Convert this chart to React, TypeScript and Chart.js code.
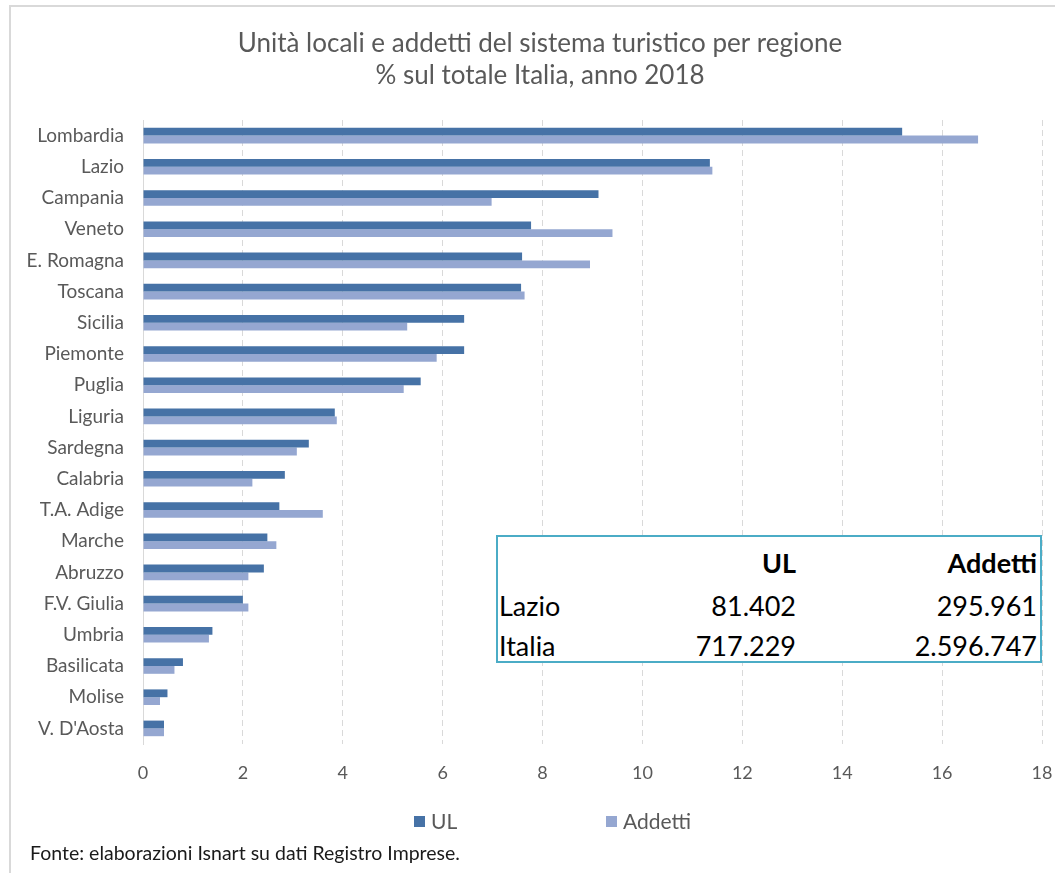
import React, { useEffect, useRef } from "react";
import { Chart, registerables } from "chart.js";

Chart.register(...registerables);

const categories = [
  "Lombardia", "Lazio", "Campania", "Veneto", "E. Romagna", "Toscana", "Sicilia",
  "Piemonte", "Puglia", "Liguria", "Sardegna", "Calabria", "T.A. Adige", "Marche",
  "Abruzzo", "F.V. Giulia", "Umbria", "Basilicata", "Molise", "V. D'Aosta",
];
const ulValues = [
  15.2, 11.35, 9.12, 7.77, 7.59, 7.57, 6.43, 6.43, 5.56, 3.84,
  3.32, 2.84, 2.73, 2.49, 2.42, 2.0, 1.39, 0.8, 0.49, 0.42,
];
const addettiValues = [
  16.72, 11.4, 6.98, 9.4, 8.95, 7.64, 5.29, 5.88, 5.22, 3.88,
  3.08, 2.19, 3.6, 2.67, 2.11, 2.11, 1.32, 0.63, 0.34, 0.42,
];
const seriesLabels = ["UL", "Addetti"];
const seriesColors = ["#4672A6", "#95A7D1"];
const xMin = 0;
const xMax = 18;
const xStep = 2;
const titleLines = [
  "Unità locali e addetti del sistema turistico per regione",
  "% sul totale Italia, anno 2018",
];
const tableHeader = ["", "UL", "Addetti"];
const tableRows = [
  ["Lazio", "81.402", "295.961"],
  ["Italia", "717.229", "2.596.747"],
];
const sourceNote = "Fonte: elaborazioni Isnart su dati Registro Imprese.";

const FONT = "Lato, 'Open Sans', sans-serif";
const GRAY = "#595959";

const titlePlugin = {
  id: "centeredTitle",
  afterDraw(chart: any) {
    const ctx = chart.ctx;
    ctx.save();
    ctx.fillStyle = GRAY;
    ctx.font = `26px ${FONT}`;
    ctx.textAlign = "center";
    ctx.textBaseline = "middle";
    titleLines.forEach((line, i) => {
      ctx.fillText(line, 540, 44 + i * 32);
    });
    ctx.restore();
  },
};

export default function App() {
  const canvasRef = useRef<HTMLCanvasElement | null>(null);

  useEffect(() => {
    const canvas = canvasRef.current;
    if (!canvas) return;
    const chart = new Chart(canvas, {
      type: "bar",
      data: {
        labels: categories,
        datasets: [
          {
            label: seriesLabels[0],
            data: ulValues,
            backgroundColor: seriesColors[0],
            categoryPercentage: 0.5,
            barPercentage: 1.0,
          },
          {
            label: seriesLabels[1],
            data: addettiValues,
            backgroundColor: seriesColors[1],
            categoryPercentage: 0.5,
            barPercentage: 1.0,
          },
        ],
      },
      options: {
        indexAxis: "y",
        animation: false,
        responsive: false,
        devicePixelRatio: 1,
        layout: { padding: { left: 0, right: 13, top: 120, bottom: 89 } },
        plugins: {
          legend: { display: false },
          tooltip: { enabled: false },
          title: { display: false },
        },
        scales: {
          x: {
            min: xMin,
            max: xMax,
            afterFit: (scale: any) => {
              scale.height = 40;
              scale.paddingLeft = 0;
              scale.paddingRight = 0;
            },
            ticks: {
              stepSize: xStep,
              color: GRAY,
              font: { family: FONT, size: 18 },
              padding: 18,
            },
            grid: {
              drawTicks: false,
              color: (ctx: any) => (ctx.index === 0 ? "rgba(0,0,0,0)" : "#d9d9d9"),
              lineWidth: 1,
            },
            border: { display: false, dash: [6, 4] },
          },
          y: {
            afterFit: (scale: any) => {
              scale.width = 143;
            },
            ticks: {
              color: GRAY,
              font: { family: FONT, size: 19 },
              padding: 19,
            },
            grid: { display: false, drawTicks: false },
            border: { display: true, color: "#d9d9d9", width: 1 },
          },
        },
      },
      plugins: [titlePlugin],
    });
    return () => chart.destroy();
  }, []);

  const legendItems = [
    { x: 414, label: seriesLabels[0], color: seriesColors[0] },
    { x: 606, label: seriesLabels[1], color: seriesColors[1] },
  ];

  const colRight = [null, 796, 1037];

  return (
    <div
      style={{
        position: "absolute",
        left: 0,
        top: 0,
        width: 1055,
        height: 873,
        overflow: "hidden",
        background: "#fff",
        fontFamily: FONT,
      }}
    >
      <div
        style={{
          position: "absolute",
          left: 9,
          top: 5,
          width: 1200,
          height: 1000,
          border: "2px solid #d9d9d9",
          boxSizing: "border-box",
        }}
      />
      <canvas
        ref={canvasRef}
        width={1055}
        height={873}
        style={{ position: "absolute", left: 0, top: 0, width: 1055, height: 873 }}
      />
      {/* inset table */}
      <div
        style={{
          position: "absolute",
          left: 496,
          top: 535,
          width: 546,
          height: 128,
          border: "2px solid #4BACC6",
          boxSizing: "border-box",
          background: "#fff",
        }}
      />
      {[tableHeader, ...tableRows].map((row, ri) => {
        const cy = [563, 606, 646][ri];
        return row.map((cell, ci) => {
          if (!cell) return null;
          const bold = ri === 0;
          const style: React.CSSProperties = {
            position: "absolute",
            top: cy - 17,
            height: 34,
            lineHeight: "34px",
            fontSize: 27,
            color: "#000",
            fontWeight: bold ? 700 : 400,
            whiteSpace: "nowrap",
          };
          if (ci === 0) {
            style.left = 499;
          } else {
            style.right = 1055 - (colRight[ci] as number);
          }
          return (
            <div key={`${ri}-${ci}`} style={style}>
              {cell}
            </div>
          );
        });
      })}
      {/* legend */}
      {legendItems.map((it) => (
        <div key={it.label}>
          <div
            style={{
              position: "absolute",
              left: it.x,
              top: 816,
              width: 11,
              height: 11,
              background: it.color,
            }}
          />
          <div
            style={{
              position: "absolute",
              left: it.x + 17,
              top: 807,
              height: 28,
              lineHeight: "28px",
              fontSize: 21,
              color: GRAY,
              whiteSpace: "nowrap",
            }}
          >
            {it.label}
          </div>
        </div>
      ))}
      <div
        style={{
          position: "absolute",
          left: 30,
          top: 841,
          height: 24,
          lineHeight: "24px",
          fontSize: 19.5,
          color: "#1a1a1a",
          whiteSpace: "nowrap",
        }}
      >
        {sourceNote}
      </div>
    </div>
  );
}
